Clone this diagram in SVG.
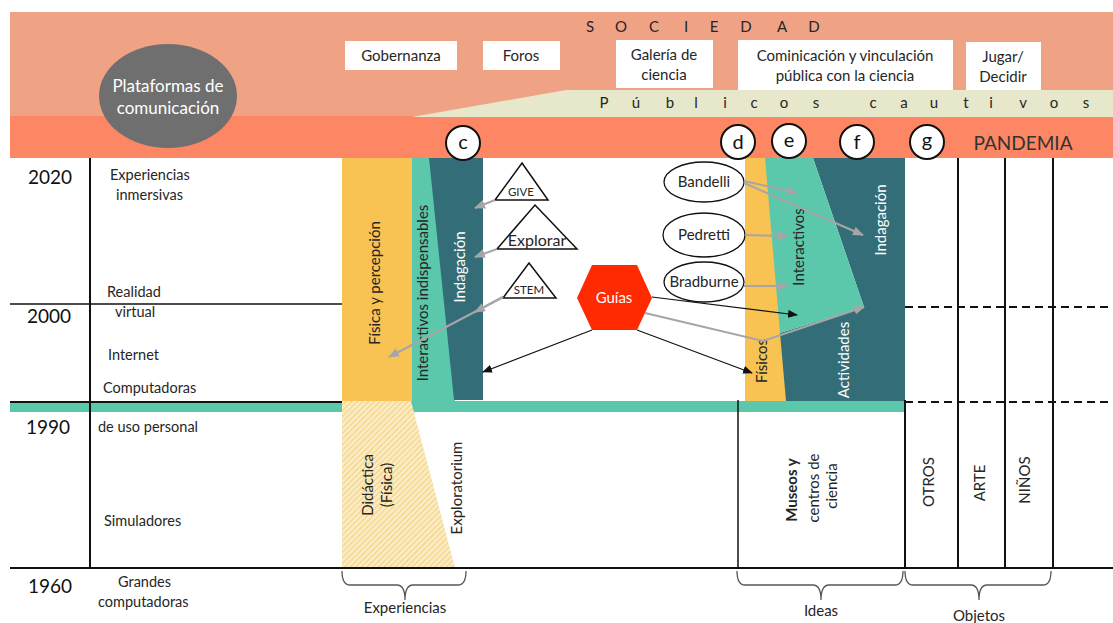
<svg xmlns="http://www.w3.org/2000/svg" width="1113" height="623" viewBox="0 0 1113 623">
<style>
text{font-family:Lato,"Open Sans","Liberation Sans",sans-serif;fill:#262626;}
.t14{font-size:14.5px;}
.t15{font-size:15px;}
.yr{font-size:19px;fill:#111;}
.w{fill:#ffffff;}
.mid{text-anchor:middle;}
.ln{stroke:#111;stroke-width:2;fill:none;}
.ln1{stroke:#111;stroke-width:1.5;fill:none;}
.dash{stroke:#111;stroke-width:2;stroke-dasharray:8 5;fill:none;}
.box{fill:#ffffff;}
.circ{fill:#ffffff;stroke:#111;stroke-width:2;}
.ell{fill:#ffffff;stroke:#111;stroke-width:1.3;}
.tri{fill:#ffffff;stroke:#111;stroke-width:1.5;}
.ga{stroke:#A6A6A6;stroke-width:2;fill:none;marker-end:url(#ag);}
.ba{stroke:#111;stroke-width:1.2;fill:none;marker-end:url(#ab);}
.brace{stroke:#555;stroke-width:1.3;fill:none;}
.lt{font-size:20px;fill:#111;}
</style>
<defs>
<marker id="ag" markerWidth="11" markerHeight="9" refX="10" refY="4.5" orient="auto" markerUnits="userSpaceOnUse"><path d="M0,0 L11,4.5 L0,9 z" fill="#A6A6A6"/></marker>
<marker id="ab" markerWidth="10" markerHeight="8" refX="9" refY="4" orient="auto" markerUnits="userSpaceOnUse"><path d="M0,0 L10,4 L0,8 z" fill="#111"/></marker>
<pattern id="hatch" width="4" height="4" patternUnits="userSpaceOnUse" patternTransform="rotate(45)"><rect width="4" height="4" fill="#FBEBC2"/><line x1="0" y1="0" x2="0" y2="4" stroke="#F2CB6C" stroke-width="1.6"/></pattern>
</defs>

<g id="background">
<rect x="10" y="12" width="1103" height="105" fill="#F0A285"/>
<rect x="10" y="116" width="1103" height="42" fill="#FD8664"/>
<polygon points="412,117 566,90 1113,90 1113,117" fill="#E6E7CB"/>
</g>

<g id="sociedad">
<text class="t15" x="590 621 654 686 714 746 782 814" y="32" text-anchor="middle">SOCIEDAD</text>
</g>
<g id="publicos">
<text class="t15" x="604 636 670 696 725 754 784 816 845 873 904 934 966 991 1023 1054 1086" y="108" text-anchor="middle">Públicos cautivos</text>
</g>

<g id="plataformas">
<ellipse cx="168" cy="96" rx="69" ry="52" fill="#6F6F6F"/>
<text class="w mid" x="168" y="92" style="font-size:17px">Plataformas de</text>
<text class="w mid" x="168" y="114" style="font-size:17px">comunicación</text>
</g>

<g id="gobernanza"><rect class="box" x="345" y="41" width="112" height="29"/><text class="t15 mid" x="401" y="61">Gobernanza</text></g>
<g id="foros"><rect class="box" x="483" y="41" width="77" height="29"/><text class="t15 mid" x="521" y="61">Foros</text></g>
<g id="galeria"><rect class="box" x="616" y="40" width="97" height="48"/><text class="t15 mid" x="664" y="60">Galería de</text><text class="t15 mid" x="664" y="80">ciencia</text></g>
<g id="cominicacion"><rect class="box" x="738" y="40" width="215" height="50"/><text class="t15 mid" x="845" y="61">Cominicación y vinculación</text><text class="t15 mid" x="845" y="81">pública con la ciencia</text></g>
<g id="jugar"><rect class="box" x="966" y="42" width="75" height="48"/><text class="t15 mid" x="1003" y="62">Jugar/</text><text class="t15 mid" x="1003" y="82">Decidir</text></g>

<g id="pandemia"><text class="mid" x="1023" y="150" style="font-size:19px;fill:#333">PANDEMIA</text></g>

<g id="bands">
<rect x="10" y="401" width="895" height="11" fill="#5BC8AC"/>
</g>

<g id="fisica-percepcion">
<rect x="342" y="158" width="70" height="243" fill="#F9C353"/>
<text class="t15 mid" transform="translate(380,283) rotate(-90)">Física y percepción</text>
</g>
<g id="interactivos-indispensables">
<polygon points="412,158 430,158 455,401 412,401" fill="#5BC8AC"/>
<text class="t15 mid" transform="translate(428,293) rotate(-90)">Interactivos indispensables</text>
</g>
<g id="indagacion-c">
<polygon points="429,158 483,158 483,400 454,400" fill="#336E78"/>
<text class="t15 mid w" transform="translate(465,267) rotate(-90)">Indagación</text>
</g>

<g id="didactica">
<polygon points="342,401 411,401 455,568 342,568" fill="url(#hatch)"/>
<text class="t15 mid" transform="translate(373,485) rotate(-90)">Didáctica</text>
<text class="t15 mid" transform="translate(392,485) rotate(-90)">(Física)</text>
</g>
<g id="exploratorium"><text class="t15 mid" transform="translate(462,488) rotate(-90)">Exploratorium</text></g>

<g id="fisicos">
<polygon points="745,158 766,158 787,401 745,401" fill="#F9C353"/>
</g>
<g id="actividades">
<polygon points="813,158 905,158 905,401 786,401 780,333 864,307" fill="#336E78"/>
</g>
<g id="interactivos">
<polygon points="765,158 813,158 864,307 780,333" fill="#5BC8AC"/>
<text class="t15 mid" transform="translate(804,247) rotate(-90)">Interactivos</text>
</g>
<g id="indagacion-f"><text class="t15 mid w" transform="translate(886,220) rotate(-90)">Indagación</text></g>
<g id="fisicos-label"><text class="t15 mid" transform="translate(767,361) rotate(-90)">Físicos</text></g>
<g id="actividades-label"><text class="t15 mid w" transform="translate(849,360) rotate(-90)">Actividades</text></g>

<g id="grid">
<line class="ln" x1="90" y1="158" x2="90" y2="568"/>
<line class="ln1" x1="10" y1="304" x2="342" y2="304"/>
<line class="ln" x1="10" y1="402" x2="342" y2="402"/>
<line class="ln" x1="10" y1="568" x2="1113" y2="568"/>
<line class="ln1" x1="738" y1="400" x2="738" y2="568"/>
<line class="ln" x1="905" y1="400" x2="905" y2="568"/>
<line class="ln" x1="958" y1="158" x2="958" y2="568"/>
<line class="ln" x1="1005" y1="158" x2="1005" y2="568"/>
<line class="ln" x1="1053" y1="158" x2="1053" y2="568"/>
<line class="dash" x1="905" y1="307" x2="1113" y2="307"/>
<line class="dash" x1="905" y1="402" x2="1113" y2="402"/>
</g>

<g id="timeline">
<text class="yr" x="28" y="184">2020</text>
<text class="yr" x="27" y="323">2000</text>
<text class="yr" x="26" y="434">1990</text>
<text class="yr" x="28" y="593">1960</text>
<text class="t14" x="110" y="180">Experiencias</text>
<text class="t14" x="116" y="200">inmersivas</text>
<text class="t14" x="107" y="297">Realidad</text>
<text class="t14" x="115" y="317">virtual</text>
<text class="t14" x="108" y="360">Internet</text>
<text class="t14" x="103" y="393">Computadoras</text>
<text class="t14" x="98" y="432">de uso personal</text>
<text class="t14" x="104" y="526">Simuladores</text>
<text class="t14" x="118" y="587">Grandes</text>
<text class="t14" x="98" y="607">computadoras</text>
</g>

<g id="col-labels">
<text class="t15 mid" transform="translate(797,490) rotate(-90)" style="font-weight:bold">Museos y</text>
<text class="t15 mid" transform="translate(819,488) rotate(-90)">centros de</text>
<text class="t15 mid" transform="translate(837,486) rotate(-90)">ciencia</text>
<text class="t15 mid" transform="translate(934,482) rotate(-90)">OTROS</text>
<text class="t15 mid" transform="translate(985,483) rotate(-90)">ARTE</text>
<text class="t15 mid" transform="translate(1030,480) rotate(-90)">NIÑOS</text>
</g>

<g id="circle-c"><circle class="circ" cx="463" cy="143" r="17"/><text class="lt mid" x="463" y="149">c</text></g>
<g id="circle-d"><circle class="circ" cx="738" cy="142" r="17"/><text class="lt mid" x="738" y="149">d</text></g>
<g id="circle-e"><circle class="circ" cx="789" cy="141" r="17"/><text class="lt mid" x="789" y="147">e</text></g>
<g id="circle-f"><circle class="circ" cx="857" cy="142" r="17"/><text class="lt mid" x="857" y="149">f</text></g>
<g id="circle-g"><circle class="circ" cx="927" cy="142" r="17"/><text class="lt mid" x="927" y="147">g</text></g>

<g id="give"><polygon class="tri" points="522,163 548,200 495,200"/><text class="mid" x="521" y="196" style="font-size:11.5px">GIVE</text></g>
<g id="explorar"><polygon class="tri" points="535,205 577,249 497,249"/><text class="mid" x="537" y="246" style="font-size:16px">Explorar</text></g>
<g id="stem"><polygon class="tri" points="529,263 556,298 503,298"/><text class="mid" x="529" y="294" style="font-size:11.5px">STEM</text></g>

<g id="guias">
<polygon points="577,298 592,265 637,265 652,298 637,330 592,330" fill="#FF2A00"/>
<text class="mid w" x="614" y="303" style="font-size:15px">Guías</text>
</g>

<g id="bandelli"><ellipse class="ell" cx="704" cy="182" rx="40" ry="20"/><text class="t15 mid" x="704" y="187">Bandelli</text></g>
<g id="pedretti"><ellipse class="ell" cx="704" cy="235" rx="41" ry="22"/><text class="t15 mid" x="704" y="240">Pedretti</text></g>
<g id="bradburne"><ellipse class="ell" cx="704" cy="282" rx="40" ry="20"/><text class="t15 mid" x="704" y="287">Bradburne</text></g>

<g id="connectors">
<line class="ga" x1="495" y1="200" x2="475" y2="208"/>
<line class="ga" x1="497" y1="249" x2="475" y2="257"/>
<line class="ga" x1="503" y1="297" x2="475" y2="312"/>
<line class="ga" x1="503" y1="297" x2="389" y2="357"/>
<line class="ga" x1="744" y1="181" x2="797" y2="193"/>
<line class="ga" x1="744" y1="183" x2="863" y2="235"/>
<line class="ga" x1="745" y1="235" x2="788" y2="236"/>
<line class="ga" x1="744" y1="286" x2="788" y2="286"/>
<polyline class="ga" points="645,313 763,341 864,307"/>
<line class="ba" x1="592" y1="330" x2="483" y2="372"/>
<line class="ba" x1="637" y1="330" x2="752" y2="373"/>
<line class="ba" x1="652" y1="297" x2="797" y2="315"/>
</g>

<g id="braces">
<path class="brace" d="M342,571 Q342,585 350,585 L397,585 Q405,585 405,600 Q405,585 413,585 L458,585 Q466,585 466,571"/>
<path class="brace" d="M737,571 Q737,585 745,585 L813,585 Q821,585 821,600 Q821,585 829,585 L895,585 Q903,585 903,571"/>
<path class="brace" d="M905,571 Q905,585 913,585 L971,585 Q979,585 979,600 Q979,585 987,585 L1043,585 Q1051,585 1051,571"/>
<text class="t15 mid" x="405" y="613">Experiencias</text>
<text class="t15 mid" x="821" y="616">Ideas</text>
<text class="t15 mid" x="979" y="621">Objetos</text>
</g>
</svg>
